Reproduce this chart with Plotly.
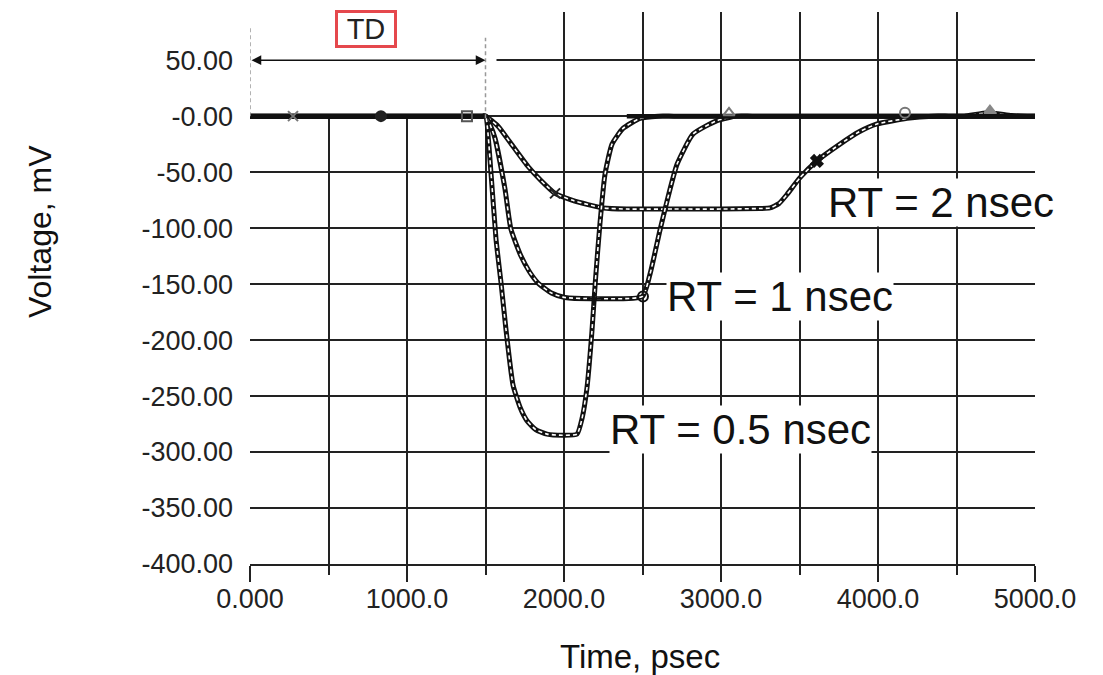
import plotly.graph_objects as go

# ---------------- data ----------------
rt05_t = [0, 1000, 1480, 1500, 1535, 1567, 1599, 1630, 1675, 1720, 1764, 1820, 1892, 1990, 2083, 2115, 2146, 2178, 2200, 2229, 2261, 2306, 2376, 2484, 2600, 2700, 5000]
rt05_v = [0, 0, 0, 0, -51, -110, -149, -190, -240, -260, -272, -280, -284, -285, -284, -270, -243, -192, -147, -96, -52, -25, -11, -2, 0, 0, 0]

rt1_t = [0, 1000, 1480, 1500, 1530, 1561, 1624, 1662, 1726, 1780, 1834, 1920, 2006, 2200, 2500, 2548, 2611, 2656, 2720, 2822, 2975, 3100, 3200, 5000]
rt1_v = [0, 0, 0, 0, -8, -20, -65, -101, -125, -139, -149, -158, -162, -163, -161, -141, -102, -76, -43, -16, -4, 0, 0, 0]

rt2_t = [0, 1000, 1480, 1500, 1580, 1675, 1771, 1850, 1943, 2050, 2153, 2250, 2400, 2700, 3000, 3250, 3312, 3370, 3420, 3503, 3611, 3758, 3880, 3994, 4185, 4350, 4450, 4550, 4700, 4850, 4950, 5000]
rt2_v = [0, 0, 0, 0, -9, -27, -45, -57, -69, -75, -79, -82, -83, -83, -83, -82.5, -82, -78, -70, -55, -40, -25, -14, -7, -2, 0, 0, 0, 3, 0.5, 0, 0]

marker_t = [274, 834, 1382, 1943, 3611, 2503, 2191, 3051, 4172, 4713]
marker_v = [0, 0, 0, -69, -40, -161, -163, 3, 3, 5]
marker_sym = ["x-thin-open", "circle", "square-open", "x-thin-open", "x", "circle-open",
              "cross-thin-open", "triangle-up-open", "circle-open", "triangle-up"]
marker_col = ["#777", "#222", "#555", "#222", "#111", "#111", "#111", "#777", "#777", "#888"]

labels = ["RT = 2 nsec", "RT = 1 nsec", "RT = 0.5 nsec"]
label_t = [4401, 3376, 3121]
label_v = [-77, -161, -280]

x_tickvals = [0, 1000, 2000, 3000, 4000, 5000]
x_ticktext = ["0.000", "1000.0", "2000.0", "3000.0", "4000.0", "5000.0"]
y_tickvals = [50, 0, -50, -100, -150, -200, -250, -300, -350, -400]
y_ticktext = ["50.00", "-0.00", "-50.00", "-100.00", "-150.00", "-200.00",
              "-250.00", "-300.00", "-350.00", "-400.00"]

TD_start, TD_end = 0, 1500

# ---------------- figure ----------------
fig = go.Figure()
FONT = "Liberation Sans, Arial, Helvetica, sans-serif"
SPL = dict(shape="spline", smoothing=0.5)

for t, v in [(rt2_t, rt2_v), (rt1_t, rt1_v), (rt05_t, rt05_v)]:
    fig.add_trace(go.Scatter(x=t, y=v, mode="lines", line=dict(color="#111", width=5, **SPL),
                             hoverinfo="skip", showlegend=False))
    fig.add_trace(go.Scatter(x=t, y=v, mode="lines", line=dict(color="white", width=1.6, dash="4px,3px", **SPL),
                             hoverinfo="skip", showlegend=False))

# baseline drawn solid over flat parts
fig.add_trace(go.Scatter(x=[0, 1500], y=[0, 0], mode="lines", line=dict(color="#111", width=4.5),
                         hoverinfo="skip", showlegend=False))
fig.add_trace(go.Scatter(x=[2400, 5000], y=[0, 0], mode="lines", line=dict(color="#111", width=4.5),
                         hoverinfo="skip", showlegend=False))

fig.add_trace(go.Scatter(x=marker_t, y=marker_v, mode="markers",
                         marker=dict(symbol=marker_sym, size=10, color=marker_col,
                                     line=dict(width=2, color=marker_col)),
                         hoverinfo="skip", showlegend=False))

for txt, t, v in zip(labels, label_t, label_v):
    fig.add_annotation(x=t, y=v, text=txt, showarrow=False, bgcolor="white",
                       font=dict(family=FONT, size=42, color="#111"), borderpad=0)

# white area over the TD region (hides grid there)
fig.add_shape(type="rect", x0=-50, x1=1570, y0=1.5, y1=100, xref="x", yref="y",
              fillcolor="white", line=dict(width=0), layer="between")
# dashed TD markers
fig.add_shape(type="line", x0=TD_start, x1=TD_start, y0=0, y1=81, xref="x", yref="y",
              line=dict(color="#999", width=1.5, dash="4px,3px"))
fig.add_shape(type="line", x0=TD_end, x1=TD_end, y0=-2, y1=70, xref="x", yref="y",
              line=dict(color="#999", width=1.5, dash="4px,3px"))
# double arrow
fig.add_annotation(x=TD_end, y=50, ax=TD_start, ay=50, xref="x", yref="y", axref="x", ayref="y",
                   text="", showarrow=True, arrowhead=2, arrowside="end+start", arrowsize=1.3,
                   arrowwidth=1.5, arrowcolor="#111")
# TD label box
fig.add_annotation(x=739, y=77.5, xref="x", yref="y", text="TD", showarrow=False,
                   font=dict(family="Liberation Sans Narrow, Arial Narrow, sans-serif", size=29, color="#222"),
                   bgcolor="white", bordercolor="#e5484d", borderwidth=3, borderpad=0, width=56)

# page has an 8px body margin; figure coordinates = page coordinates - 8
OFF = 8
W, H = 1087, 667
L, T = 242, 4
PW, PH = 785, 552
R, B = W - L - PW, H - T - PH

def paper_xy(px, py):
    return (px - OFF - L) / PW, (H - B - (py - OFF)) / PH

tx, ty = paper_xy(640, 656)
fig.add_annotation(x=tx, y=ty, xref="paper", yref="paper", text="Time, psec", showarrow=False,
                   xanchor="center", yanchor="middle",
                   font=dict(family=FONT, size=33, color="#111"))
vx, vy = paper_xy(40, 232)
fig.add_annotation(x=vx, y=vy, xref="paper", yref="paper", text="Voltage, mV", showarrow=False,
                   xanchor="center", yanchor="middle",
                   textangle=-90, font=dict(family=FONT, size=32, color="#111"))

fig.update_layout(
    width=W, height=H, margin=dict(l=L, r=R, t=T, b=B),
    paper_bgcolor="white", plot_bgcolor="white",
    xaxis=dict(range=[0, 5000], tickvals=x_tickvals, ticktext=x_ticktext,
               showgrid=True, gridcolor="#222", gridwidth=2, zeroline=False,
               ticks="outside", ticklen=16, tickwidth=2, tickcolor="#222",
               ticklabelstandoff=-6,
               showline=True, linecolor="#222", linewidth=2,
               minor=dict(dtick=500, tick0=0, showgrid=True, gridcolor="#222", gridwidth=2,
                          ticks="outside", ticklen=9, tickwidth=2, tickcolor="#222"),
               tickfont=dict(family=FONT, size=27, color="#222")),
    yaxis=dict(range=[-400, 93], tickvals=y_tickvals, ticktext=y_ticktext,
               showgrid=True, gridcolor="#222", gridwidth=2, zeroline=False,
               ticks="", ticklabelstandoff=16, showline=False,
               tickfont=dict(family=FONT, size=27, color="#222")),
)

fig.write_html("out.html")
